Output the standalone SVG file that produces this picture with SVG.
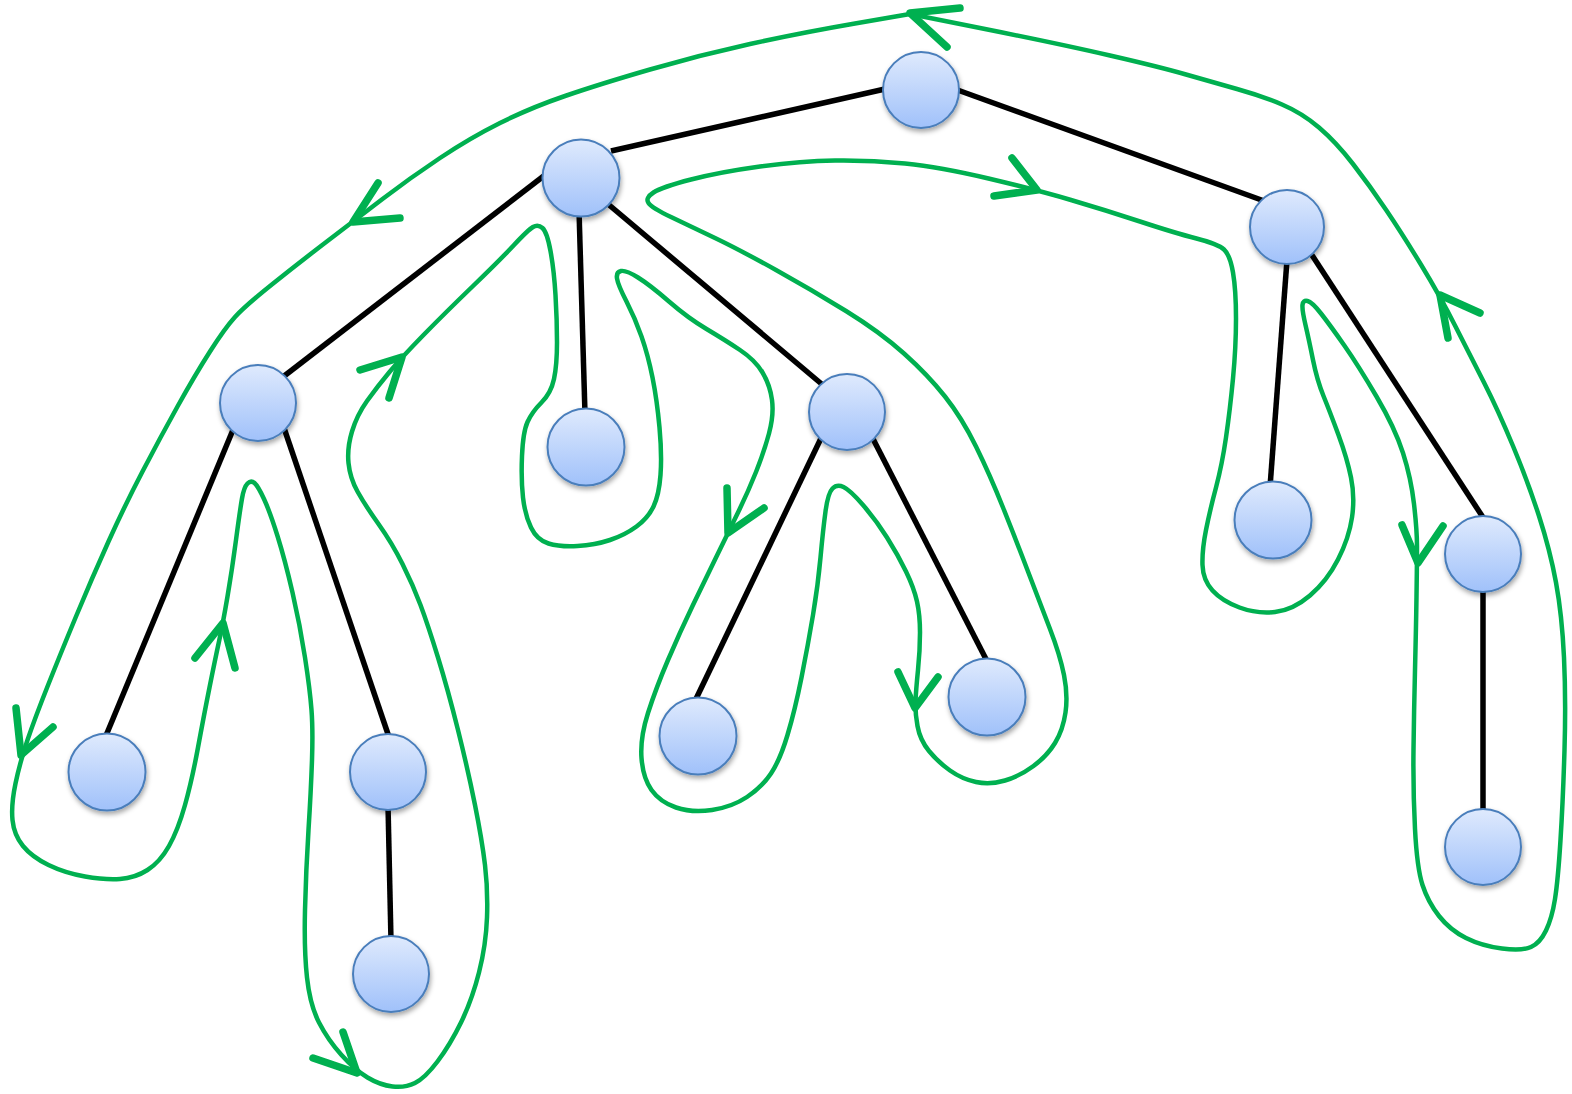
<svg xmlns="http://www.w3.org/2000/svg" width="1572" height="1094" viewBox="0 0 1572 1094">
<defs>
<linearGradient id="nodeFill" x1="0" y1="0" x2="0" y2="1">
<stop offset="0" stop-color="#dfeafd"/>
<stop offset="1" stop-color="#a0c1fa"/>
</linearGradient>
<filter id="shadow" x="-30%" y="-30%" width="160%" height="170%">
<feDropShadow dx="1" dy="3" stdDeviation="2.5" flood-color="#000" flood-opacity="0.35"/>
</filter>
<style>
.node circle{fill:url(#nodeFill);stroke:#4a7ebb;stroke-width:2;filter:url(#shadow)}
.edge{stroke:#000;stroke-width:5.5;stroke-linecap:butt}
.tour{fill:none;stroke:#00b050;stroke-width:4.5;stroke-linejoin:round;stroke-linecap:round}
.arrow{fill:none;stroke:#00b050;stroke-width:7.5;stroke-linejoin:round;stroke-linecap:round}
</style>
</defs>
<rect width="1572" height="1094" fill="#fff"/>
<g id="connectors">
<line class="edge" x1="611" y1="151" x2="885" y2="89"/>
<line class="edge" x1="952" y1="88" x2="1267" y2="202"/>
<line class="edge" x1="545" y1="175" x2="279" y2="380"/>
<line class="edge" x1="579" y1="210" x2="585" y2="414"/>
<line class="edge" x1="602" y1="199" x2="824" y2="386"/>
<line class="edge" x1="235" y1="425" x2="105" y2="738"/>
<line class="edge" x1="283" y1="425" x2="390" y2="740"/>
<line class="edge" x1="388" y1="805" x2="391" y2="941"/>
<line class="edge" x1="824" y1="432" x2="695" y2="701"/>
<line class="edge" x1="870" y1="433" x2="988" y2="663"/>
<line class="edge" x1="1287" y1="260" x2="1270" y2="487"/>
<line class="edge" x1="1308" y1="249" x2="1486" y2="522"/>
<line class="edge" x1="1483" y1="587" x2="1483" y2="815"/>
</g>
<g id="nodes">
<g id="n-root" class="node"><circle cx="921" cy="90" r="38"/></g>
<g id="n-a" class="node"><circle cx="581" cy="178" r="38.5"/></g>
<g id="n-b" class="node"><circle cx="1287" cy="227" r="37"/></g>
<g id="n-c" class="node"><circle cx="258" cy="403" r="38"/></g>
<g id="n-d" class="node"><circle cx="586" cy="447" r="38.5"/></g>
<g id="n-e" class="node"><circle cx="847" cy="412" r="38"/></g>
<g id="n-f" class="node"><circle cx="107" cy="772" r="38.5"/></g>
<g id="n-g" class="node"><circle cx="388" cy="772" r="38"/></g>
<g id="n-h" class="node"><circle cx="391" cy="974" r="38"/></g>
<g id="n-i" class="node"><circle cx="698" cy="736" r="38.5"/></g>
<g id="n-j" class="node"><circle cx="987" cy="697" r="38.5"/></g>
<g id="n-k" class="node"><circle cx="1273" cy="520" r="38.5"/></g>
<g id="n-l" class="node"><circle cx="1483" cy="554" r="38"/></g>
<g id="n-m" class="node"><circle cx="1483" cy="847" r="38"/></g>
</g>
<g id="tour">
<path class="tour" d="M910 14 L855 23.5 Q800 33 750 44 Q700 55 650 69.5 Q600 84 565 96 Q530 108 500 123 Q470 138 440 158 Q410 178 382.5 199 Q355 220 327.5 241 Q300 262 272.5 284 Q245 306 235 317 Q225 328 210 351.5 Q195 375 177.5 406.5 Q160 438 142.5 471.5 Q125 505 108.5 541.5 Q92 578 76 616.5 Q60 655 47.5 686.5 Q35 718 27.5 740 Q20 762 15.5 783.5 Q11 805 12.5 820 Q14 835 23 846 Q32 857 48.5 865 Q65 873 85 876.5 Q105 880 120 879 Q135 878 147.5 870 Q160 862 169 846 Q178 830 185 805 Q192 780 198 747.5 Q204 715 209.5 687.5 Q215 660 219 641.5 Q223 623 227.5 596.5 Q232 570 236 540 Q240 510 242 498.5 Q244 487 247.5 483.5 Q251 480 254.5 483 Q258 486 264 499 Q270 512 277.5 536 Q285 560 292.5 592.5 Q300 625 305 657.5 Q310 690 311.5 710 Q313 730 312 760 Q311 790 308.5 830 Q306 870 305 910 Q304 950 307 977.5 Q310 1005 319 1022.5 Q328 1040 341.5 1055 Q355 1070 367.5 1077.5 Q380 1085 392.5 1086.5 Q405 1088 415 1083 Q425 1078 437.5 1061.5 Q450 1045 461 1022.5 Q472 1000 479 972.5 Q486 945 487 917.5 Q488 890 485 865 Q482 840 475 805 Q468 770 458 730 Q448 690 438 657.5 Q428 625 420.5 605 Q413 585 402.5 564 Q392 543 378.5 524 Q365 505 357.5 491.5 Q350 478 348.5 463 Q347 448 352 431.5 Q357 415 367 401 Q377 387 389.5 372 Q402 357 423.5 335 Q445 313 472.5 286.5 Q500 260 514 245 Q528 230 533 227 Q538 224 542.5 228 Q547 232 550.5 251 Q554 270 555.5 295 Q557 320 557 342.5 Q557 365 554 379 Q551 393 541.5 402.5 Q532 412 527.5 422 Q523 432 522 456 Q521 480 523 497.5 Q525 515 531 527.5 Q537 540 548.5 543.5 Q560 547 577.5 546 Q595 545 610 540 Q625 535 636.5 526.5 Q648 518 653.5 506.5 Q659 495 660.5 475 Q662 455 659.5 427.5 Q657 400 652.5 377.5 Q648 355 641.5 336.5 Q635 318 626.5 301.5 Q618 285 617 278.5 Q616 272 621 271 Q626 270 638 277.5 Q650 285 669 301.5 Q688 318 706.5 329 Q725 340 740 350 Q755 360 762.5 372.5 Q770 385 772 400 Q774 415 769 433.5 Q764 452 756 472 Q748 492 738 512.5 Q728 533 716.5 556.5 Q705 580 692.5 606 Q680 632 668 660 Q656 688 648 713 Q640 738 641.5 758 Q643 778 651.5 790 Q660 802 676 807.5 Q692 813 712 810 Q732 807 747 797 Q762 787 771 773.5 Q780 760 787.5 735 Q795 710 801.5 677.5 Q808 645 813 615 Q818 585 820.5 557.5 Q823 530 825.5 511.5 Q828 493 832.5 488.5 Q837 484 843.5 487 Q850 490 863 505 Q876 520 887 537.5 Q898 555 906 571.5 Q914 588 917 601.5 Q920 615 920 632.5 Q920 650 918 670 Q916 690 915.5 701 Q915 712 917.5 726 Q920 740 929 751 Q938 762 950 770.5 Q962 779 976 782 Q990 785 1005 780.5 Q1020 776 1033.5 766 Q1047 756 1055 743 Q1063 730 1065.5 712.5 Q1068 695 1064 675 Q1060 655 1050 629 Q1040 603 1028 571.5 Q1016 540 1003 507.5 Q990 475 976 446.5 Q962 418 945 396.5 Q928 375 904 353.5 Q880 332 846 311 Q812 290 776 270 Q740 250 715 238 Q690 226 671 217 Q652 208 648.5 203 Q645 198 653.5 192.5 Q662 187 691 179.5 Q720 172 760 166.5 Q800 161 835 160.5 Q870 160 905 163.5 Q940 167 988.5 178.5 Q1037 190 1071 200 Q1105 210 1140 221.5 Q1175 233 1196.5 238.5 Q1218 244 1224 249.5 Q1230 255 1233 272.5 Q1236 290 1236 318.5 Q1236 347 1233 378.5 Q1230 410 1226 437.5 Q1222 465 1216 487.5 Q1210 510 1206 530 Q1202 550 1202.5 565 Q1203 580 1212.5 590.5 Q1222 601 1239.5 607.5 Q1257 614 1275 612 Q1293 610 1310 595.5 Q1327 581 1338 559.5 Q1349 538 1352 517.5 Q1355 497 1351 477.5 Q1347 458 1338.5 435 Q1330 412 1323.5 396 Q1317 380 1313 360 Q1309 340 1305.5 325 Q1302 310 1302.5 305 Q1303 300 1307.5 301 Q1312 302 1321 313.5 Q1330 325 1344 345 Q1358 365 1376.5 396.5 Q1395 428 1403 453 Q1411 478 1414 504 Q1417 530 1417 546.5 Q1417 563 1416.5 596.5 Q1416 630 1415 670 Q1414 710 1413.5 750 Q1413 790 1415 829 Q1417 868 1422.5 885 Q1428 902 1439 916 Q1450 930 1466 938 Q1482 946 1502 948.5 Q1522 951 1531 947 Q1540 943 1546 930.5 Q1552 918 1555 899 Q1558 880 1560.5 840 Q1563 800 1564.5 750 Q1566 700 1564 657.5 Q1562 615 1556 582.5 Q1550 550 1539 516 Q1528 482 1513 446 Q1498 410 1484 382.5 Q1470 355 1455 325.5 Q1440 296 1421.5 265.5 Q1403 235 1386.5 210.5 Q1370 186 1353 164 Q1336 142 1319 127.5 Q1302 113 1282 104.5 Q1262 96 1237 89 Q1212 82 1186 74.5 Q1160 67 1110 55.5 Q1060 44 985 29 L910 14"/>
<path class="arrow" d="M960 8 L910 13 L947 47"/>
<path class="arrow" d="M378 183 L353 222 L400 218"/>
<path class="arrow" d="M16 708 L21 755 L53 727"/>
<path class="arrow" d="M195 658 L223 623 L235 668"/>
<path class="arrow" d="M343 1032 L357 1073 L313 1058"/>
<path class="arrow" d="M360 370 L402 357 L389 398"/>
<path class="arrow" d="M727 488 L728 533 L764 508"/>
<path class="arrow" d="M898 672 L915 708 L938 677"/>
<path class="arrow" d="M1012 158 L1037 190 L994 196"/>
<path class="arrow" d="M1402 525 L1418 563 L1443 526"/>
<path class="arrow" d="M1448 338 L1440 295 L1480 313"/>
</g>
</svg>
